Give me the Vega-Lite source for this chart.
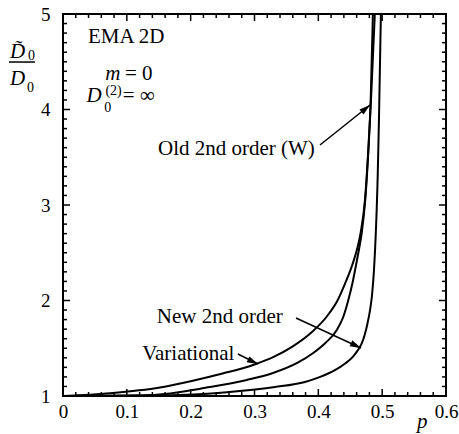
{
  "$schema": "https://vega.github.io/schema/vega-lite/v6.json",
  "width": 383,
  "height": 382,
  "autosize": "none",
  "padding": {"left": 63, "top": 14, "right": 13, "bottom": 38},
  "background": "white",
  "config": {
    "view": {"stroke": "black", "strokeWidth": 2},
    "axis": {"grid": false, "domain": false, "ticks": false, "title": null, "labelFont": "Liberation Serif", "labelColor": "black"}
  },
  "datasets": {
    "ticks": [
      {"x": 0.1, "y": 1, "x2": 0.1, "y2": 1.073}, {"x": 0.2, "y": 1, "x2": 0.2, "y2": 1.073}, {"x": 0.3, "y": 1, "x2": 0.3, "y2": 1.073}, {"x": 0.4, "y": 1, "x2": 0.4, "y2": 1.073}, {"x": 0.5, "y": 1, "x2": 0.5, "y2": 1.073},
      {"x": 0.1, "y": 5, "x2": 0.1, "y2": 4.927}, {"x": 0.2, "y": 5, "x2": 0.2, "y2": 4.927}, {"x": 0.3, "y": 5, "x2": 0.3, "y2": 4.927}, {"x": 0.4, "y": 5, "x2": 0.4, "y2": 4.927}, {"x": 0.5, "y": 5, "x2": 0.5, "y2": 4.927},
      {"x": 0.02, "y": 1, "x2": 0.02, "y2": 1.042}, {"x": 0.04, "y": 1, "x2": 0.04, "y2": 1.042}, {"x": 0.06, "y": 1, "x2": 0.06, "y2": 1.042}, {"x": 0.08, "y": 1, "x2": 0.08, "y2": 1.042},
      {"x": 0.12, "y": 1, "x2": 0.12, "y2": 1.042}, {"x": 0.14, "y": 1, "x2": 0.14, "y2": 1.042}, {"x": 0.16, "y": 1, "x2": 0.16, "y2": 1.042}, {"x": 0.18, "y": 1, "x2": 0.18, "y2": 1.042},
      {"x": 0.22, "y": 1, "x2": 0.22, "y2": 1.042}, {"x": 0.24, "y": 1, "x2": 0.24, "y2": 1.042}, {"x": 0.26, "y": 1, "x2": 0.26, "y2": 1.042}, {"x": 0.28, "y": 1, "x2": 0.28, "y2": 1.042},
      {"x": 0.32, "y": 1, "x2": 0.32, "y2": 1.042}, {"x": 0.34, "y": 1, "x2": 0.34, "y2": 1.042}, {"x": 0.36, "y": 1, "x2": 0.36, "y2": 1.042}, {"x": 0.38, "y": 1, "x2": 0.38, "y2": 1.042},
      {"x": 0.42, "y": 1, "x2": 0.42, "y2": 1.042}, {"x": 0.44, "y": 1, "x2": 0.44, "y2": 1.042}, {"x": 0.46, "y": 1, "x2": 0.46, "y2": 1.042}, {"x": 0.48, "y": 1, "x2": 0.48, "y2": 1.042},
      {"x": 0.52, "y": 1, "x2": 0.52, "y2": 1.042}, {"x": 0.54, "y": 1, "x2": 0.54, "y2": 1.042}, {"x": 0.56, "y": 1, "x2": 0.56, "y2": 1.042}, {"x": 0.58, "y": 1, "x2": 0.58, "y2": 1.042},
      {"x": 0.02, "y": 5, "x2": 0.02, "y2": 4.958}, {"x": 0.04, "y": 5, "x2": 0.04, "y2": 4.958}, {"x": 0.06, "y": 5, "x2": 0.06, "y2": 4.958}, {"x": 0.08, "y": 5, "x2": 0.08, "y2": 4.958},
      {"x": 0.12, "y": 5, "x2": 0.12, "y2": 4.958}, {"x": 0.14, "y": 5, "x2": 0.14, "y2": 4.958}, {"x": 0.16, "y": 5, "x2": 0.16, "y2": 4.958}, {"x": 0.18, "y": 5, "x2": 0.18, "y2": 4.958},
      {"x": 0.22, "y": 5, "x2": 0.22, "y2": 4.958}, {"x": 0.24, "y": 5, "x2": 0.24, "y2": 4.958}, {"x": 0.26, "y": 5, "x2": 0.26, "y2": 4.958}, {"x": 0.28, "y": 5, "x2": 0.28, "y2": 4.958},
      {"x": 0.32, "y": 5, "x2": 0.32, "y2": 4.958}, {"x": 0.34, "y": 5, "x2": 0.34, "y2": 4.958}, {"x": 0.36, "y": 5, "x2": 0.36, "y2": 4.958}, {"x": 0.38, "y": 5, "x2": 0.38, "y2": 4.958},
      {"x": 0.42, "y": 5, "x2": 0.42, "y2": 4.958}, {"x": 0.44, "y": 5, "x2": 0.44, "y2": 4.958}, {"x": 0.46, "y": 5, "x2": 0.46, "y2": 4.958}, {"x": 0.48, "y": 5, "x2": 0.48, "y2": 4.958},
      {"x": 0.52, "y": 5, "x2": 0.52, "y2": 4.958}, {"x": 0.54, "y": 5, "x2": 0.54, "y2": 4.958}, {"x": 0.56, "y": 5, "x2": 0.56, "y2": 4.958}, {"x": 0.58, "y": 5, "x2": 0.58, "y2": 4.958},
      {"x": 0, "y": 2, "x2": 0.011, "y2": 2}, {"x": 0, "y": 3, "x2": 0.011, "y2": 3}, {"x": 0, "y": 4, "x2": 0.011, "y2": 4},
      {"x": 0.6, "y": 2, "x2": 0.589, "y2": 2}, {"x": 0.6, "y": 3, "x2": 0.589, "y2": 3}, {"x": 0.6, "y": 4, "x2": 0.589, "y2": 4},
      {"x": 0, "y": 1.1, "x2": 0.0063, "y2": 1.1}, {"x": 0, "y": 1.2, "x2": 0.0063, "y2": 1.2}, {"x": 0, "y": 1.3, "x2": 0.0063, "y2": 1.3}, {"x": 0, "y": 1.4, "x2": 0.0063, "y2": 1.4}, {"x": 0, "y": 1.5, "x2": 0.0063, "y2": 1.5}, {"x": 0, "y": 1.6, "x2": 0.0063, "y2": 1.6}, {"x": 0, "y": 1.7, "x2": 0.0063, "y2": 1.7}, {"x": 0, "y": 1.8, "x2": 0.0063, "y2": 1.8}, {"x": 0, "y": 1.9, "x2": 0.0063, "y2": 1.9},
      {"x": 0, "y": 2.1, "x2": 0.0063, "y2": 2.1}, {"x": 0, "y": 2.2, "x2": 0.0063, "y2": 2.2}, {"x": 0, "y": 2.3, "x2": 0.0063, "y2": 2.3}, {"x": 0, "y": 2.4, "x2": 0.0063, "y2": 2.4}, {"x": 0, "y": 2.5, "x2": 0.0063, "y2": 2.5}, {"x": 0, "y": 2.6, "x2": 0.0063, "y2": 2.6}, {"x": 0, "y": 2.7, "x2": 0.0063, "y2": 2.7}, {"x": 0, "y": 2.8, "x2": 0.0063, "y2": 2.8}, {"x": 0, "y": 2.9, "x2": 0.0063, "y2": 2.9},
      {"x": 0, "y": 3.1, "x2": 0.0063, "y2": 3.1}, {"x": 0, "y": 3.2, "x2": 0.0063, "y2": 3.2}, {"x": 0, "y": 3.3, "x2": 0.0063, "y2": 3.3}, {"x": 0, "y": 3.4, "x2": 0.0063, "y2": 3.4}, {"x": 0, "y": 3.5, "x2": 0.0063, "y2": 3.5}, {"x": 0, "y": 3.6, "x2": 0.0063, "y2": 3.6}, {"x": 0, "y": 3.7, "x2": 0.0063, "y2": 3.7}, {"x": 0, "y": 3.8, "x2": 0.0063, "y2": 3.8}, {"x": 0, "y": 3.9, "x2": 0.0063, "y2": 3.9},
      {"x": 0, "y": 4.1, "x2": 0.0063, "y2": 4.1}, {"x": 0, "y": 4.2, "x2": 0.0063, "y2": 4.2}, {"x": 0, "y": 4.3, "x2": 0.0063, "y2": 4.3}, {"x": 0, "y": 4.4, "x2": 0.0063, "y2": 4.4}, {"x": 0, "y": 4.5, "x2": 0.0063, "y2": 4.5}, {"x": 0, "y": 4.6, "x2": 0.0063, "y2": 4.6}, {"x": 0, "y": 4.7, "x2": 0.0063, "y2": 4.7}, {"x": 0, "y": 4.8, "x2": 0.0063, "y2": 4.8}, {"x": 0, "y": 4.9, "x2": 0.0063, "y2": 4.9},
      {"x": 0.6, "y": 1.1, "x2": 0.5937, "y2": 1.1}, {"x": 0.6, "y": 1.2, "x2": 0.5937, "y2": 1.2}, {"x": 0.6, "y": 1.3, "x2": 0.5937, "y2": 1.3}, {"x": 0.6, "y": 1.4, "x2": 0.5937, "y2": 1.4}, {"x": 0.6, "y": 1.5, "x2": 0.5937, "y2": 1.5}, {"x": 0.6, "y": 1.6, "x2": 0.5937, "y2": 1.6}, {"x": 0.6, "y": 1.7, "x2": 0.5937, "y2": 1.7}, {"x": 0.6, "y": 1.8, "x2": 0.5937, "y2": 1.8}, {"x": 0.6, "y": 1.9, "x2": 0.5937, "y2": 1.9},
      {"x": 0.6, "y": 2.1, "x2": 0.5937, "y2": 2.1}, {"x": 0.6, "y": 2.2, "x2": 0.5937, "y2": 2.2}, {"x": 0.6, "y": 2.3, "x2": 0.5937, "y2": 2.3}, {"x": 0.6, "y": 2.4, "x2": 0.5937, "y2": 2.4}, {"x": 0.6, "y": 2.5, "x2": 0.5937, "y2": 2.5}, {"x": 0.6, "y": 2.6, "x2": 0.5937, "y2": 2.6}, {"x": 0.6, "y": 2.7, "x2": 0.5937, "y2": 2.7}, {"x": 0.6, "y": 2.8, "x2": 0.5937, "y2": 2.8}, {"x": 0.6, "y": 2.9, "x2": 0.5937, "y2": 2.9},
      {"x": 0.6, "y": 3.1, "x2": 0.5937, "y2": 3.1}, {"x": 0.6, "y": 3.2, "x2": 0.5937, "y2": 3.2}, {"x": 0.6, "y": 3.3, "x2": 0.5937, "y2": 3.3}, {"x": 0.6, "y": 3.4, "x2": 0.5937, "y2": 3.4}, {"x": 0.6, "y": 3.5, "x2": 0.5937, "y2": 3.5}, {"x": 0.6, "y": 3.6, "x2": 0.5937, "y2": 3.6}, {"x": 0.6, "y": 3.7, "x2": 0.5937, "y2": 3.7}, {"x": 0.6, "y": 3.8, "x2": 0.5937, "y2": 3.8}, {"x": 0.6, "y": 3.9, "x2": 0.5937, "y2": 3.9},
      {"x": 0.6, "y": 4.1, "x2": 0.5937, "y2": 4.1}, {"x": 0.6, "y": 4.2, "x2": 0.5937, "y2": 4.2}, {"x": 0.6, "y": 4.3, "x2": 0.5937, "y2": 4.3}, {"x": 0.6, "y": 4.4, "x2": 0.5937, "y2": 4.4}, {"x": 0.6, "y": 4.5, "x2": 0.5937, "y2": 4.5}, {"x": 0.6, "y": 4.6, "x2": 0.5937, "y2": 4.6}, {"x": 0.6, "y": 4.7, "x2": 0.5937, "y2": 4.7}, {"x": 0.6, "y": 4.8, "x2": 0.5937, "y2": 4.8}, {"x": 0.6, "y": 4.9, "x2": 0.5937, "y2": 4.9}
    ],
    "curves": [
      {"curve": "Variational", "p": 0, "D": 1.0},
      {"curve": "Variational", "p": 0.074, "D": 1.03},
      {"curve": "Variational", "p": 0.152, "D": 1.09},
      {"curve": "Variational", "p": 0.2, "D": 1.155},
      {"curve": "Variational", "p": 0.25, "D": 1.235},
      {"curve": "Variational", "p": 0.3, "D": 1.33},
      {"curve": "Variational", "p": 0.33, "D": 1.41},
      {"curve": "Variational", "p": 0.36, "D": 1.52},
      {"curve": "Variational", "p": 0.39, "D": 1.67},
      {"curve": "Variational", "p": 0.413, "D": 1.83},
      {"curve": "Variational", "p": 0.43, "D": 2.0},
      {"curve": "Variational", "p": 0.442, "D": 2.18},
      {"curve": "Variational", "p": 0.452, "D": 2.35},
      {"curve": "Variational", "p": 0.46, "D": 2.52},
      {"curve": "Variational", "p": 0.466, "D": 2.7},
      {"curve": "Variational", "p": 0.473, "D": 3.05},
      {"curve": "Variational", "p": 0.478, "D": 3.55},
      {"curve": "Variational", "p": 0.482, "D": 4.1},
      {"curve": "Variational", "p": 0.4855, "D": 5.0},
      {"curve": "Old", "p": 0, "D": 1.0},
      {"curve": "Old", "p": 0.136, "D": 1.01},
      {"curve": "Old", "p": 0.23, "D": 1.094},
      {"curve": "Old", "p": 0.288, "D": 1.168},
      {"curve": "Old", "p": 0.329, "D": 1.241},
      {"curve": "Old", "p": 0.367, "D": 1.346},
      {"curve": "Old", "p": 0.392, "D": 1.45},
      {"curve": "Old", "p": 0.411, "D": 1.555},
      {"curve": "Old", "p": 0.429, "D": 1.691},
      {"curve": "Old", "p": 0.439, "D": 1.827},
      {"curve": "Old", "p": 0.447, "D": 2.005},
      {"curve": "Old", "p": 0.4535, "D": 2.183},
      {"curve": "Old", "p": 0.4585, "D": 2.351},
      {"curve": "Old", "p": 0.4635, "D": 2.529},
      {"curve": "Old", "p": 0.468, "D": 2.707},
      {"curve": "Old", "p": 0.4735, "D": 3.052},
      {"curve": "Old", "p": 0.4785, "D": 3.576},
      {"curve": "Old", "p": 0.4825, "D": 4.1},
      {"curve": "Old", "p": 0.4885, "D": 5.0},
      {"curve": "New", "p": 0, "D": 1.0},
      {"curve": "New", "p": 0.105, "D": 1.002},
      {"curve": "New", "p": 0.204, "D": 1.016},
      {"curve": "New", "p": 0.277, "D": 1.052},
      {"curve": "New", "p": 0.332, "D": 1.094},
      {"curve": "New", "p": 0.379, "D": 1.147},
      {"curve": "New", "p": 0.403, "D": 1.2},
      {"curve": "New", "p": 0.426, "D": 1.27},
      {"curve": "New", "p": 0.442, "D": 1.34},
      {"curve": "New", "p": 0.454, "D": 1.41},
      {"curve": "New", "p": 0.462, "D": 1.48},
      {"curve": "New", "p": 0.468, "D": 1.55},
      {"curve": "New", "p": 0.473, "D": 1.65},
      {"curve": "New", "p": 0.477, "D": 1.76},
      {"curve": "New", "p": 0.481, "D": 1.9},
      {"curve": "New", "p": 0.484, "D": 2.05},
      {"curve": "New", "p": 0.487, "D": 2.3},
      {"curve": "New", "p": 0.49, "D": 2.7},
      {"curve": "New", "p": 0.493, "D": 3.3},
      {"curve": "New", "p": 0.495, "D": 3.9},
      {"curve": "New", "p": 0.498, "D": 5.0}
    ]
  },
  "layer": [
    {
      "data": {"name": "curves"},
      "mark": {"type": "line", "color": "black", "strokeWidth": 2, "interpolate": "monotone"},
      "encoding": {
        "x": {"field": "p", "type": "quantitative", "scale": {"domain": [0, 0.6], "nice": false, "zero": false},
          "axis": {"orient": "bottom", "values": [0, 0.1, 0.2, 0.3, 0.4, 0.5, 0.6], "format": "~g", "labelFontSize": 19, "labelPadding": 6, "labelFlush": false, "labelOverlap": false}},
        "y": {"field": "D", "type": "quantitative", "scale": {"domain": [1, 5], "nice": false, "zero": false},
          "axis": {"orient": "left", "values": [1, 2, 3, 4, 5], "format": "~g", "labelFontSize": 19, "labelPadding": 13, "labelFlush": false, "labelOverlap": false}},
        "detail": {"field": "curve"}
      }
    },
    {
      "data": {"name": "ticks"},
      "mark": {"type": "rule", "color": "black", "strokeWidth": 1.5},
      "encoding": {
        "x": {"field": "x", "type": "quantitative"},
        "y": {"field": "y", "type": "quantitative"},
        "x2": {"field": "x2"},
        "y2": {"field": "y2"}
      }
    },
    {
      "data": {"values": [
        {"x": 0.4026, "y": 3.628, "x2": 0.481, "y2": 4.047},
        {"x": 0.365, "y": 1.817, "x2": 0.4668, "y2": 1.503},
        {"x": 0.274, "y": 1.44, "x2": 0.3055, "y2": 1.335},
        {"x": -0.0846, "y": 4.497, "x2": -0.0439, "y2": 4.497}
      ]},
      "mark": {"type": "rule", "color": "black", "strokeWidth": 1.5},
      "encoding": {
        "x": {"field": "x", "type": "quantitative"},
        "y": {"field": "y", "type": "quantitative"},
        "x2": {"field": "x2"},
        "y2": {"field": "y2"}
      }
    },
    {
      "data": {"values": [
        {"x": 0.481, "y": 4.047, "angle": 51},
        {"x": 0.4668, "y": 1.503, "angle": 115},
        {"x": 0.3055, "y": 1.335, "angle": 115}
      ]},
      "mark": {"type": "point", "shape": "M0,0L-0.65,2.2L0.65,2.2Z", "filled": true, "color": "black", "opacity": 1, "size": 100},
      "encoding": {
        "x": {"field": "x", "type": "quantitative"},
        "y": {"field": "y", "type": "quantitative"},
        "angle": {"field": "angle", "type": "quantitative", "scale": null}
      }
    },
    {
      "data": {"values": [
        {"x": 0.1488, "y": 3.524, "t": "Old 2nd order (W)"},
        {"x": 0.147, "y": 1.764, "t": "New 2nd order"},
        {"x": 0.124, "y": 1.377, "t": "Variational"},
        {"x": 0.039, "y": 4.696, "t": "EMA 2D"},
        {"x": 0.097, "y": 4.309, "t": "= 0"},
        {"x": 0.0935, "y": 4.079, "t": "= ∞"}
      ]},
      "mark": {"type": "text", "font": "Liberation Serif", "fontSize": 21, "align": "left", "baseline": "alphabetic", "color": "black"},
      "encoding": {
        "x": {"field": "x", "type": "quantitative"},
        "y": {"field": "y", "type": "quantitative"},
        "text": {"field": "t"}
      }
    },
    {
      "data": {"values": [
        {"x": 0.066, "y": 4.309, "t": "m"},
        {"x": 0.037, "y": 4.079, "t": "D"},
        {"x": -0.083, "y": 4.539, "t": "D̃"},
        {"x": -0.083, "y": 4.257, "t": "D"},
        {"x": 0.5546, "y": 0.665, "t": "p"}
      ]},
      "mark": {"type": "text", "font": "Liberation Serif", "fontStyle": "italic", "fontSize": 21, "align": "left", "baseline": "alphabetic", "color": "black"},
      "encoding": {
        "x": {"field": "x", "type": "quantitative"},
        "y": {"field": "y", "type": "quantitative"},
        "text": {"field": "t"}
      }
    },
    {
      "data": {"values": [
        {"x": 0.0645, "y": 3.974, "t": "0"},
        {"x": 0.0665, "y": 4.152, "t": "(2)"},
        {"x": -0.0548, "y": 4.518, "t": "0"},
        {"x": -0.0564, "y": 4.183, "t": "0"}
      ]},
      "mark": {"type": "text", "font": "Liberation Serif", "fontSize": 14, "align": "left", "baseline": "alphabetic", "color": "black"},
      "encoding": {
        "x": {"field": "x", "type": "quantitative"},
        "y": {"field": "y", "type": "quantitative"},
        "text": {"field": "t"}
      }
    }
  ]
}
